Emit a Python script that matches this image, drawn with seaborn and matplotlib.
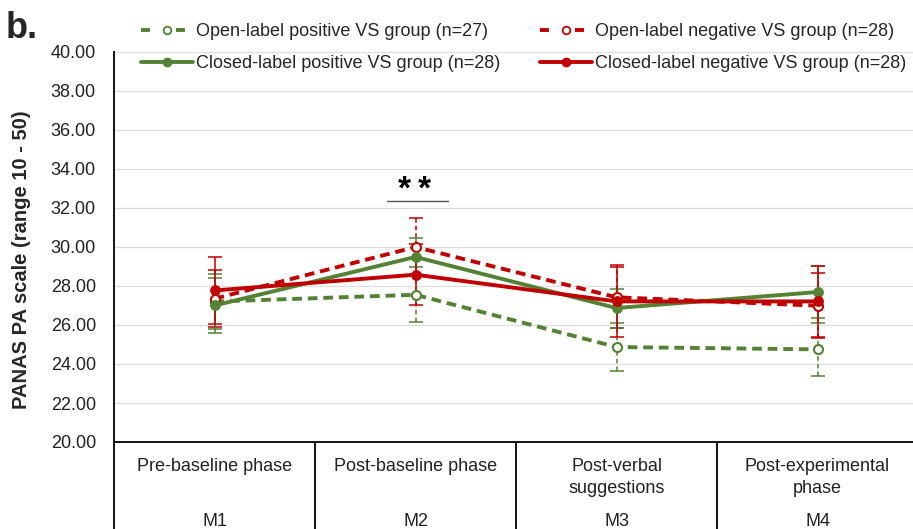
import matplotlib
matplotlib.use("Agg")
import matplotlib.pyplot as plt
import matplotlib.transforms as mtransforms
from matplotlib.lines import Line2D
import seaborn as sns
import pandas as pd
import numpy as np

sns.set_theme(style="white")
plt.rcParams['font.family'] = ['Liberation Sans', 'DejaVu Sans']

# ---- data ----
phases = ["Pre-baseline phase", "Post-baseline phase", "Post-verbal\nsuggestions", "Post-experimental\nphase"]
moments = ["M1", "M2", "M3", "M4"]
series_names = ["Open-label positive VS group (n=27)",
                "Closed-label positive VS group (n=28)",
                "Open-label negative VS group (n=28)",
                "Closed-label negative VS group (n=28)"]
open_pos = [27.20, 27.55, 24.87, 24.75]
open_pos_se = [1.40, 1.40, 1.25, 1.35]
closed_pos = [27.00, 29.49, 26.87, 27.69]
closed_pos_se = [1.40, 0.97, 1.00, 1.33]
open_neg = [27.35, 30.00, 27.42, 26.99]
open_neg_se = [1.45, 1.50, 1.55, 1.68]
closed_neg = [27.77, 28.58, 27.21, 27.21]
closed_neg_se = [1.70, 1.58, 1.85, 1.83]
yticks = [20, 22, 24, 26, 28, 30, 32, 34, 36, 38, 40]
sig_label = "**"

GREEN = "#548235"
RED = "#C00000"

W, H = 913, 529
fig = plt.figure(figsize=(W / 100, H / 100), dpi=100)
ax = fig.add_axes([114 / W, (H - 442) / H, 804 / W, 390 / H])

x = np.arange(len(moments))
specs = [
    (series_names[0], open_pos, open_pos_se, GREEN, True),
    (series_names[2], open_neg, open_neg_se, RED, True),
    (series_names[1], closed_pos, closed_pos_se, GREEN, False),
    (series_names[3], closed_neg, closed_neg_se, RED, False),
]

for name, vals, se, col, dashed in specs:
    eb = ax.errorbar(x, vals, yerr=se, fmt="none", ecolor=col, elinewidth=1.1,
                     capsize=5, capthick=1.1, zorder=2)
    if dashed:
        eb[2][0].set_linestyle((0, (3, 2)))
for name, vals, se, col, dashed in specs:
    df = pd.DataFrame({"x": x, "y": vals})
    if dashed:
        sns.lineplot(data=df, x="x", y="y", ax=ax, color=col, lw=2.8,
                     linestyle=(0, (2.5, 1.5)), marker="o", markersize=6.5,
                     markerfacecolor="white", markeredgecolor=col,
                     markeredgewidth=1.5, legend=False, zorder=3)
    else:
        sns.lineplot(data=df, x="x", y="y", ax=ax, color=col, lw=2.8,
                     marker="o", markersize=7, markerfacecolor=col,
                     markeredgecolor=col, legend=False, zorder=3)

ax.set_xlim(-0.5, 3.5)
ax.set_ylim(20, 40)
ax.set_yticks(yticks)
ax.set_yticklabels([f"{v:.2f}" for v in yticks], fontsize=13, color="#222222")
ax.tick_params(axis="y", length=0, pad=13)
ax.set_xticks([])
ax.set_xlabel("")
ax.set_ylabel("")
ax.grid(axis="y", color="#DDDDDD", lw=0.9)
ax.grid(axis="x", visible=False)
for s in ["top", "right"]:
    ax.spines[s].set_visible(False)
ax.spines["left"].set_color("black")
ax.spines["left"].set_linewidth(1.3)
ax.spines["bottom"].set_color("black")
ax.spines["bottom"].set_linewidth(1.3)

# category table below the axis
trans = mtransforms.blended_transform_factory(ax.transData, ax.transAxes)
for xb in [-0.5, 0.5, 1.5, 2.5]:
    ax.plot([xb, xb], [0, -0.3], transform=trans, color="black", lw=1.3,
            clip_on=False, solid_capstyle="butt")
for i, (p, m) in enumerate(zip(phases, moments)):
    ax.text(i, -0.040, p, transform=trans, ha="center", va="top", fontsize=13,
            linespacing=1.4, color="#222222")
    ax.text(i, -0.204, m, transform=trans, ha="center", va="center", fontsize=13,
            color="#222222")

# significance marker
ax.plot([0.856, 1.16], [32.37, 32.37], color="#555555", lw=1.0)
for k, ch in enumerate(sig_label):
    ax.text(0.995 + (k - (len(sig_label) - 1) / 2) * 0.102, 32.1, ch,
            ha="center", va="bottom", fontsize=24, fontweight="bold", color="black")

# legend
handles = []
for name, vals, se, col, dashed in [specs[0], specs[2], specs[1], specs[3]]:
    if dashed:
        h = Line2D([], [], color=col, lw=2.8, linestyle=(0, (2.3, 6.7)), marker="o",
                   markersize=5.5, markerfacecolor="white", markeredgecolor=col,
                   markeredgewidth=1.3)
    else:
        h = Line2D([], [], color=col, lw=2.8, marker="o", markersize=6,
                   markerfacecolor=col, markeredgecolor=col)
    handles.append(h)
labels = [specs[0][0], specs[2][0], specs[1][0], specs[3][0]]
fig.legend(handles, labels, ncol=2, loc="upper left",
           bbox_to_anchor=(141 / W, 1 - 23 / H), frameon=False, fontsize=13,
           handlelength=2.9, handletextpad=0.15, columnspacing=2.2,
           labelspacing=0.85, borderpad=0, borderaxespad=0)

fig.text(22 / W, 1 - 260 / H, "PANAS PA scale (range 10 - 50)", rotation=90,
         ha="center", va="center", fontsize=14.5, fontweight="bold")
fig.text(6 / W, 1 - 38 / H, "b.", ha="left", va="baseline", fontsize=26,
         fontweight="bold")

fig.savefig("out.png", dpi=100)
